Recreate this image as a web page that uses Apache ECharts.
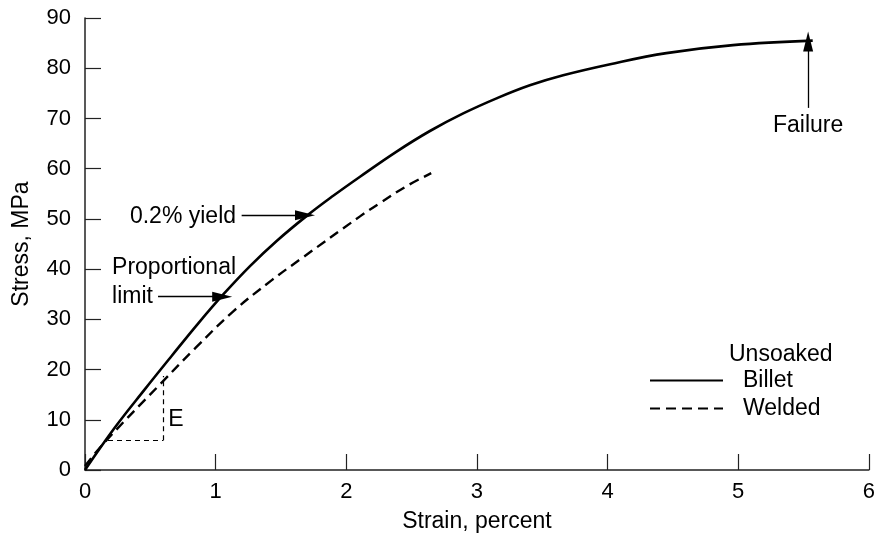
<!DOCTYPE html>
<html>
<head>
<meta charset="utf-8">
<script src="https://cdn.jsdelivr.net/npm/echarts@6/dist/echarts.min.js"></script>
<style>html,body{margin:0;padding:0;background:#fff}#c{width:878px;height:538px}</style>
</head>
<body>
<div id="c"></div>
<script>
var xTicks = [0, 1, 2, 3, 4, 5, 6];
var yTicks = [0, 10, 20, 30, 40, 50, 60, 70, 80, 90];
var billetStrain = [0, 0.23, 0.459, 0.663, 0.867, 1.06, 1.263, 1.467, 1.697, 1.90, 2.105, 2.385, 2.64, 2.895, 3.15, 3.405, 3.66, 4.02, 4.45, 4.96, 5.57];
var billetStress = [0, 8.5, 16.1, 22.7, 29.2, 35.0, 40.6, 45.6, 50.6, 54.6, 58.4, 63.4, 67.5, 71.0, 74.0, 76.6, 78.6, 80.8, 83.0, 84.6, 85.5];
var weldedStrain = [0, 0.153, 0.587, 0.842, 1.135, 1.43, 1.645, 2.105, 2.26, 2.46, 2.65];
var weldedStress = [0.8, 5.6, 17.4, 24.2, 31.6, 37.8, 41.9, 50.5, 53.2, 56.5, 59.1];
var seriesNames = ['Billet', 'Welded'];
var legendTitle = 'Unsoaked';

var FONT = 'Liberation Sans';
function pairs(xs, ys) { return xs.map(function (x, i) { return [x, ys[i]]; }); }

var chart = echarts.init(document.getElementById('c'));
var textStyle = { color: '#000', fontFamily: FONT, fontSize: 23 };

function lbl(coord, text, align) {
  return {
    coord: coord, value: text, symbolSize: 0,
    label: { show: true, position: 'inside', align: align, verticalAlign: 'middle',
      formatter: text, color: '#000', fontFamily: FONT, fontSize: 23 }
  };
}

var option = {
  animation: false,
  backgroundColor: '#fff',
  grid: { left: 85, right: 9, top: 18, bottom: 67 },
  xAxis: {
    type: 'value', min: xTicks[0], max: xTicks[xTicks.length - 1], interval: 1,
    name: 'Strain, percent', nameLocation: 'middle', nameGap: 40,
    nameTextStyle: textStyle,
    axisLine: { show: true, lineStyle: { color: '#222', width: 1.5 } },
    axisTick: { show: true, inside: true, length: 16, lineStyle: { color: '#222', width: 1.2 } },
    axisLabel: { color: '#000', fontFamily: FONT, fontSize: 22, margin: 11 },
    splitLine: { show: false }
  },
  yAxis: {
    type: 'value', min: yTicks[0], max: yTicks[yTicks.length - 1], interval: 10,
    name: 'Stress, MPa', nameLocation: 'middle', nameGap: 52,
    nameTextStyle: textStyle,
    axisLine: { show: true, lineStyle: { color: '#222', width: 1.5 } },
    axisTick: { show: true, inside: true, length: 16, lineStyle: { color: '#222', width: 1.2 } },
    axisLabel: { color: '#000', fontFamily: FONT, fontSize: 22, margin: 14 },
    splitLine: { show: false }
  },
  legend: {
    data: seriesNames, orient: 'vertical', left: 644, top: 364,
    itemWidth: 73, itemHeight: 14, itemGap: 5,
    itemStyle: { opacity: 0 },
    textStyle: { color: '#000', fontFamily: FONT, fontSize: 23, lineHeight: 23, padding: [0, 0, 0, 15] }
  },
  graphic: [{
    type: 'text', left: 729, top: 343,
    style: { text: legendTitle, fill: '#000', font: '23px "Liberation Sans"' }
  }],
  series: [
    {
      name: seriesNames[0], type: 'line', data: pairs(billetStrain, billetStress),
      smooth: 0.4, showSymbol: false, symbol: 'none',
      lineStyle: { color: '#000', width: 2.6, type: 'solid' },
      itemStyle: { color: '#000' },
      markLine: {
        silent: true, symbol: ['none', 'none'], label: { show: false },
        data: [
          [{ coord: [1.199, 50.7], symbol: 'none', lineStyle: { color: '#000', width: 1.3, type: 'solid' } },
           { coord: [1.684, 50.7], symbol: 'triangle', symbolSize: [10, 20] }],
          [{ coord: [0.559, 34.5], symbol: 'none', lineStyle: { color: '#000', width: 1.3, type: 'solid' } },
           { coord: [1.05, 34.5], symbol: 'triangle', symbolSize: [10, 20] }],
          [{ coord: [5.535, 72.1], symbol: 'none', lineStyle: { color: '#000', width: 1.3, type: 'solid' } },
           { coord: [5.535, 85.3], symbol: 'triangle', symbolSize: [10, 20] }],
          [{ coord: [0.176, 5.9], lineStyle: { color: '#000', width: 1.2, type: [5, 4] } },
           { coord: [0.6, 5.9] }],
          [{ coord: [0.6, 5.9], lineStyle: { color: '#000', width: 1.2, type: [5, 4] } },
           { coord: [0.6, 18.7] }]
        ]
      },
      markPoint: {
        silent: true,
        data: [
          lbl([1.156, 50.4], '0.2% yield', 'right'),
          lbl([0.207, 40.3], 'Proportional', 'left'),
          lbl([0.207, 34.6], 'limit', 'left'),
          lbl([0.637, 10.1], 'E', 'left'),
          lbl([5.535, 68.5], 'Failure', 'center')
        ]
      }
    },
    {
      name: seriesNames[1], type: 'line', data: pairs(weldedStrain, weldedStress),
      smooth: 0.4, showSymbol: false, symbol: 'none',
      lineStyle: { color: '#000', width: 2.4, type: [10, 6] },
      itemStyle: { color: '#000' }
    }
  ]
};
chart.setOption(option);
</script>
</body>
</html>
